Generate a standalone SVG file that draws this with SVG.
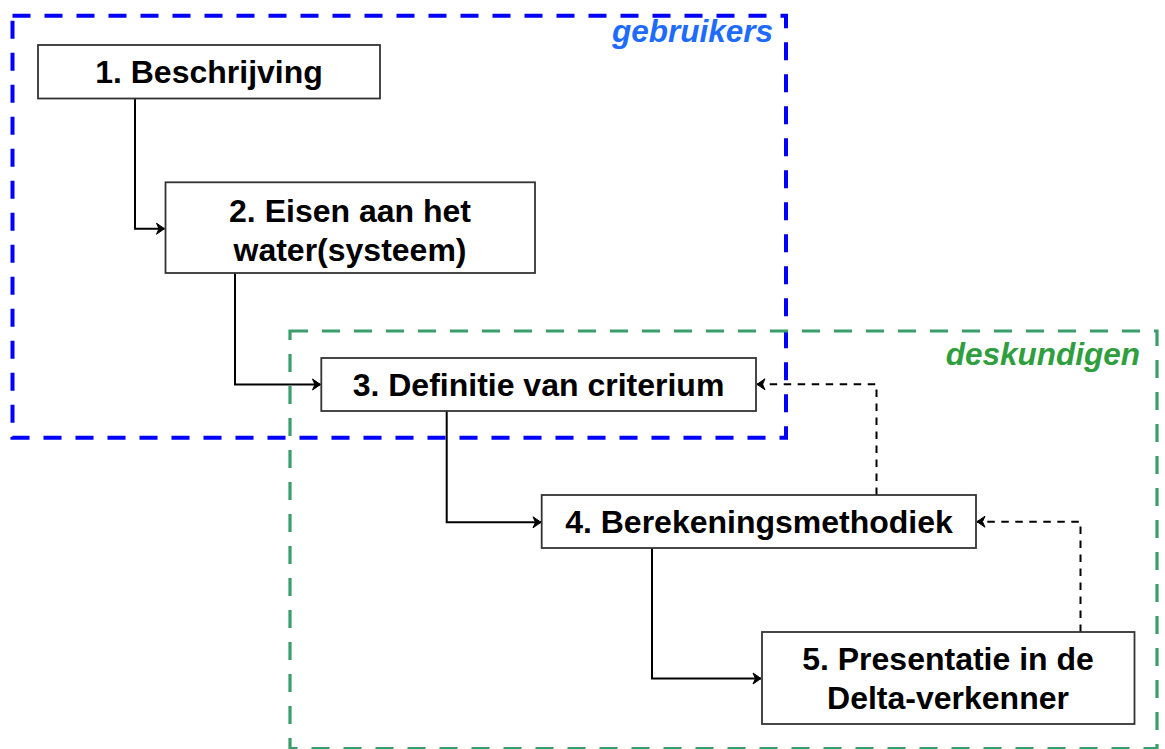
<svg xmlns="http://www.w3.org/2000/svg" width="1165" height="749" viewBox="0 0 1165 749">
<defs>
<style>
.box{fill:#fff;stroke:#333;stroke-width:1.8}
.t{font-family:"Liberation Sans",Arial,sans-serif;font-weight:bold;font-size:32px;fill:#000;text-anchor:middle}
.lbl{font-family:"Liberation Sans",Arial,sans-serif;font-weight:bold;font-style:italic;font-size:31.5px;text-anchor:end}
.c{fill:none;stroke:#000;stroke-width:2}
.d{fill:none;stroke:#000;stroke-width:2;stroke-dasharray:7.5 6.5}
</style>
<marker id="ah" markerUnits="userSpaceOnUse" markerWidth="14" markerHeight="14" viewBox="0 0 14 14" refX="12" refY="7" orient="auto">
<path d="M4,1.5 L12,7 L4,12.5 L6.5,7 Z" fill="#000" stroke="#000" stroke-width="1"/>
</marker>
</defs>
<rect width="1165" height="749" fill="#fff"/>
<g id="group-gebruikers">
<rect x="12.5" y="15.7" width="773.5" height="422" fill="none" stroke="#0000FF" stroke-width="4" stroke-dasharray="18 14"/>
<text class="lbl" x="773" y="42" fill="#1E6BFF">gebruikers</text>
</g>
<g id="group-deskundigen">
<rect x="290" y="331" width="867" height="417.5" fill="none" stroke="#3A9E6C" stroke-width="3.2" stroke-dasharray="18 14"/>
<text class="lbl" x="1140" y="365" fill="#2F9E3E">deskundigen</text>
</g>
<g id="connectors">
<path class="c" d="M135,98.5 V228.7 H164.5" marker-end="url(#ah)"/>
<path class="c" d="M235,273 V384.5 H320.5" marker-end="url(#ah)"/>
<path class="c" d="M446.7,411 V522.3 H541" marker-end="url(#ah)"/>
<path class="c" d="M652,548 V678.5 H761" marker-end="url(#ah)"/>
<path class="d" d="M876.5,495 V384.3 H757" marker-end="url(#ah)"/>
<path class="d" d="M1080.5,632 V521.7 H977" marker-end="url(#ah)"/>
</g>
<g id="node1">
<rect class="box" x="38" y="45" width="342" height="53.5"/>
<text class="t" x="209" y="83">1. Beschrijving</text>
</g>
<g id="node2">
<rect class="box" x="165.5" y="182.3" width="369.5" height="90.7"/>
<text class="t" x="350" y="222">2. Eisen aan het</text>
<text class="t" x="350" y="261">water(systeem)</text>
</g>
<g id="node3">
<rect class="box" x="321.3" y="358" width="434.7" height="53"/>
<text class="t" x="538.5" y="396">3. Definitie van criterium</text>
</g>
<g id="node4">
<rect class="box" x="541.7" y="495" width="434.3" height="53"/>
<text class="t" x="759" y="533">4. Berekeningsmethodiek</text>
</g>
<g id="node5">
<rect class="box" x="762" y="632" width="372.5" height="92"/>
<text class="t" x="948" y="670">5. Presentatie in de</text>
<text class="t" x="948" y="709">Delta-verkenner</text>
</g>
</svg>
